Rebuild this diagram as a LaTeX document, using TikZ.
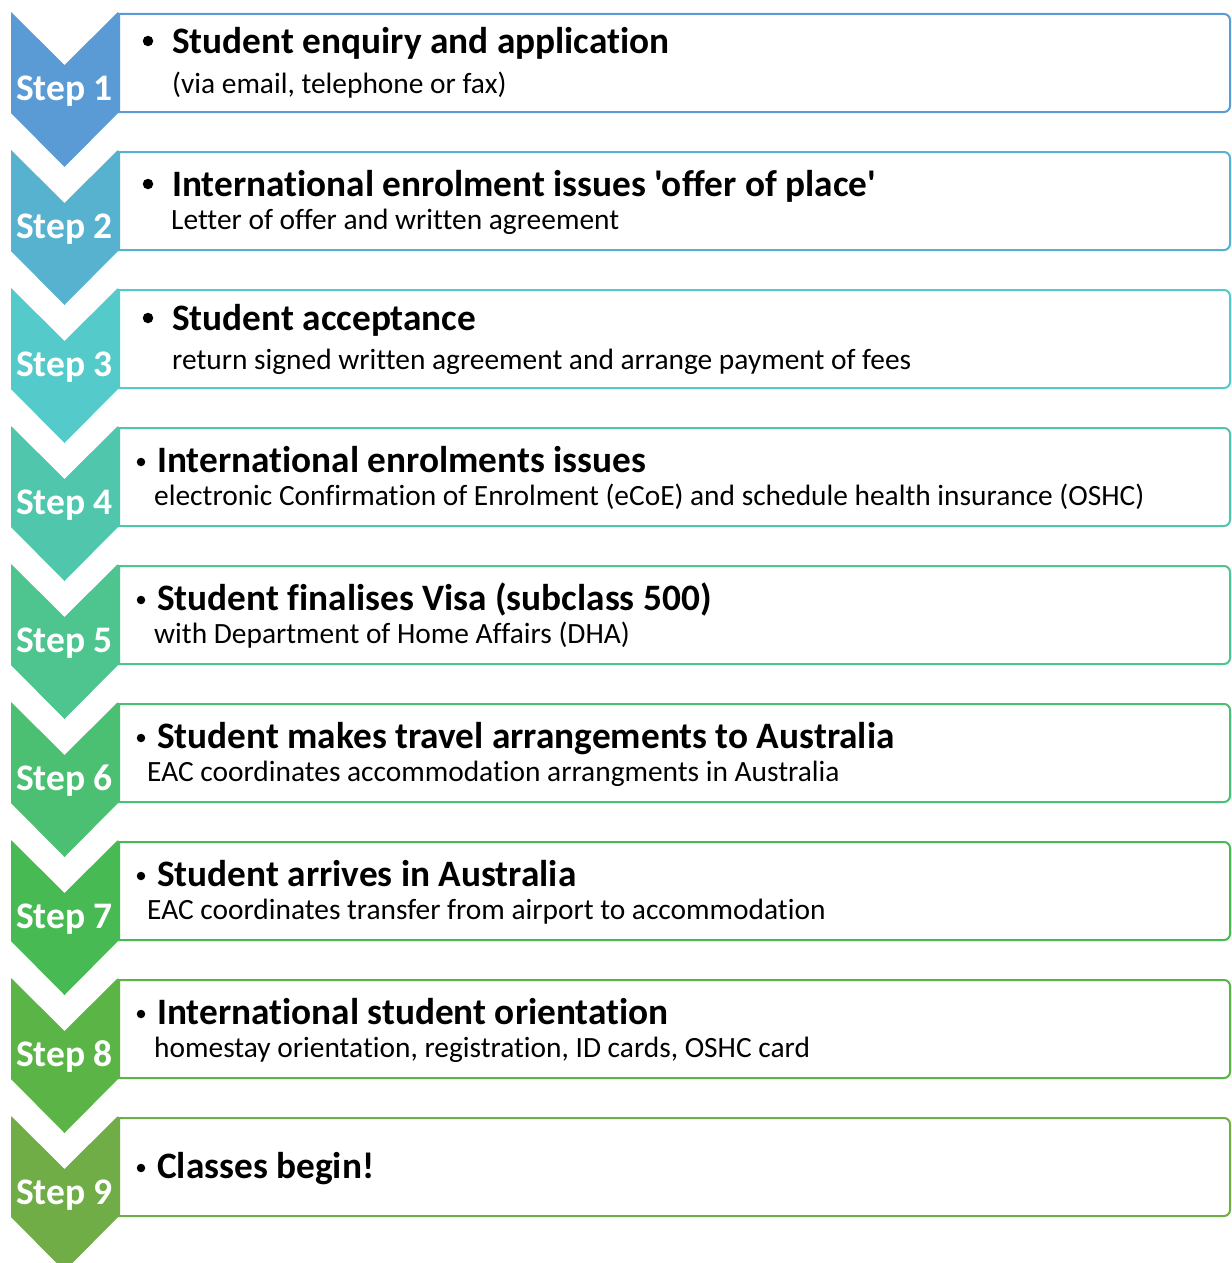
\documentclass[tikz,border=0pt]{standalone}
\usepackage{fontspec}
\setmainfont{Carlito}[Ligatures={TeXOff,CommonOff}]
\definecolor{c1}{HTML}{5B9BD5}
\definecolor{c2}{HTML}{56B2CE}
\definecolor{c3}{HTML}{54CBCA}
\definecolor{c4}{HTML}{50C6AC}
\definecolor{c5}{HTML}{4EC48F}
\definecolor{c6}{HTML}{4BBF72}
\definecolor{c7}{HTML}{47BA53}
\definecolor{c8}{HTML}{5BB446}
\definecolor{c9}{HTML}{70AD47}
\begin{document}
\begin{tikzpicture}[x=1pt,y=-1pt,
  boxline/.style={line width=2pt},
  steplbl/.style={text=white,anchor=base,inner sep=0pt,font=\fontsize{37.5}{42}\selectfont\bfseries},
  head/.style={anchor=base west,inner sep=0pt,font=\fontsize{37.3}{42}\selectfont\bfseries},
  subt/.style={anchor=base west,inner sep=0pt,font=\fontsize{29.4}{34}\selectfont},
  bigbul/.style={circle,fill=black,inner sep=0pt,minimum size=10.5pt},
  smallbul/.style={circle,fill=black,inner sep=0pt,minimum size=8.5pt}]
\useasboundingbox (0,0) rectangle (1231,1263);
\clip (0,0) rectangle (1231,1263);
\fill[white] (0,0) rectangle (1231,1263);
\foreach \i in {1,...,9}{
  \pgfmathsetmacro{\t}{12+138*(\i-1)}
  \pgfmathsetmacro{\bt}{14+138*(\i-1)}
  \pgfmathsetmacro{\bb}{112+138*(\i-1)}
  \draw[boxline,draw=c\i] (119,\bt) [rounded corners=6pt] -- (1230,\bt) -- (1230,\bb) [sharp corners] -- (119,\bb) -- cycle;
  \fill[c\i] (11,\t) -- (64.5,\t+53) -- (118,\t) -- (118,\t+101) -- (64.5,\t+155) -- (11,\t+101) -- cycle;
  \node[steplbl] (s\i) at (64.5,\t+88) {Step \i};
}
% bullets
\node[bigbul] (b1) at (148,41) {};
\node[bigbul] (b2) at (148,184) {};
\node[bigbul] (b3) at (148,318) {};
\node[smallbul] (b4) at (141,462) {};
\node[smallbul] (b5) at (141,600) {};
\node[smallbul] (b6) at (141,738) {};
\node[smallbul] (b7) at (141,876) {};
\node[smallbul] (b8) at (141,1014) {};
\node[smallbul] (b9) at (141,1168) {};
% headings
\node[head] (h1) at (172,53) {Student enquiry and application};
\node[head] (h2) at (172,196) {International enrolment issues 'offer of place'};
\node[head] (h3) at (172,330) {Student acceptance};
\node[head] (h4) at (157,472) {International enrolments issues};
\node[head] (h5) at (157,610) {Student finalises Visa (subclass 500)};
\node[head] (h6) at (157,748) {Student makes travel arrangements to Australia};
\node[head] (h7) at (157,886) {Student arrives in Australia};
\node[head] (h8) at (157,1024) {International student orientation};
\node[head] (h9) at (157,1178) {Classes begin!};
% sub texts
\node[subt] (t1) at (172,93) {(via email, telephone or fax)};
\node[subt] (t2) at (171,229) {Letter of offer and written agreement};
\node[subt] (t3) at (172,369) {return signed written agreement and arrange payment of fees};
\node[subt] (t4) at (154,505) {electronic Confirmation of Enrolment (eCoE) and schedule health insurance (OSHC)};
\node[subt] (t5) at (154,643) {with Department of Home Affairs (DHA)};
\node[subt] (t6) at (147,781) {EAC coordinates accommodation arrangments in Australia};
\node[subt] (t7) at (147,919) {EAC coordinates transfer from airport to accommodation};
\node[subt] (t8) at (154,1057) {homestay orientation, registration, ID cards, OSHC card};
\end{tikzpicture}
\end{document}
